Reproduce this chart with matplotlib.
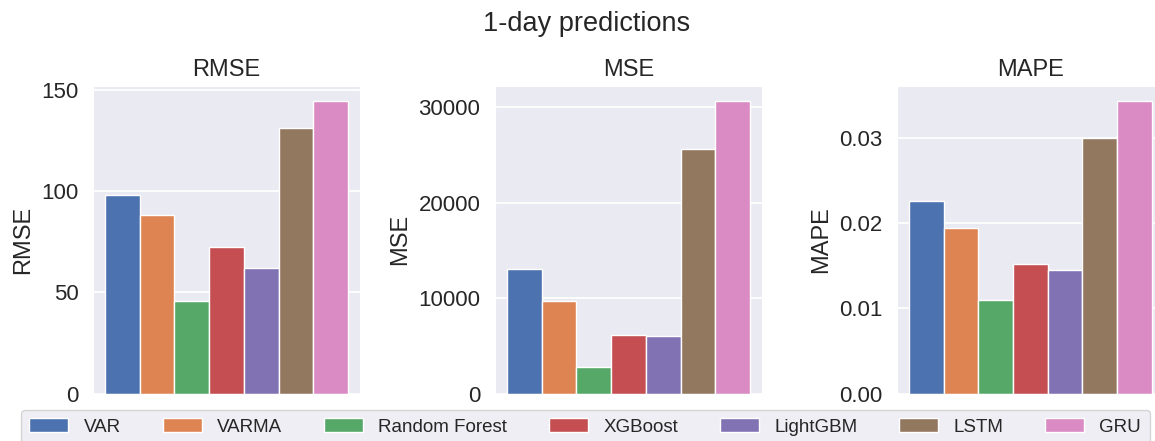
import matplotlib
matplotlib.use("Agg")
import matplotlib.pyplot as plt
import seaborn as sns

sns.set_style("darkgrid")
plt.rcParams["font.family"] = ["Liberation Sans", "DejaVu Sans"]

models = ["VAR", "VARMA", "Random Forest", "XGBoost", "LightGBM", "LSTM", "GRU"]
rmse = [98.1, 88.2, 45.6, 72.5, 62.1, 131.1, 144.7]
mse = [13010, 9650, 2760, 6120, 6040, 25560, 30670]
mape = [0.0226, 0.0194, 0.0110, 0.0152, 0.0145, 0.0300, 0.0344]

metrics = ["RMSE", "MSE", "MAPE"]
values = [rmse, mse, mape]
yticks = [[0, 50, 100, 150],
          [0, 10000, 20000, 30000],
          [0.00, 0.01, 0.02, 0.03]]
yticklabels = [["0", "50", "100", "150"],
               ["0", "10000", "20000", "30000"],
               ["0.00", "0.01", "0.02", "0.03"]]

colors = sns.color_palette("deep", len(models))

W, H = 1155, 441
fig = plt.figure(figsize=(W / 100, H / 100), dpi=100)

ax_w, ax_h = 267, 307.5
lefts = [93, 495, 896.7]
top = 86

handles = None
for i, (name, vals) in enumerate(zip(metrics, values)):
    ax = fig.add_axes([lefts[i] / W, (H - top - ax_h) / H, ax_w / W, ax_h / H])
    bars = ax.bar(range(len(models)), vals, width=1.0, color=colors,
                  edgecolor="white", linewidth=1.0, label=models)
    if handles is None:
        handles = bars
    ax.set_xticks([])
    ax.set_yticks(yticks[i])
    ax.set_yticklabels(yticklabels[i])
    ax.tick_params(axis="y", labelsize=16, length=0, pad=10.5, labelcolor="#262626")
    ax.set_ylabel(name, fontsize=17, color="#262626", labelpad=5)
    ax.set_title(name, fontsize=17, color="#262626", pad=7)
    ax.grid(True, axis="y", color="white", linewidth=1.3)
    ax.set_axisbelow(True)

fig.suptitle("1-day predictions", fontsize=19.5, color="#262626",
             x=587 / W, y=1 - 11 / H, va="top")

leg = fig.legend(handles, models, loc="upper left",
                 bbox_to_anchor=(21 / W, (H - 410) / H), borderaxespad=0,
                 ncol=len(models), fontsize=13.5, frameon=True,
                 handlelength=2.08, handleheight=0.7, handletextpad=0.8,
                 columnspacing=2.25, borderpad=0.45)
leg.get_frame().set_facecolor("#EAEAF2")
leg.get_frame().set_edgecolor("#CCCCCC")
for t in leg.get_texts():
    t.set_color("#262626")

fig.savefig("out.png", dpi=100)
